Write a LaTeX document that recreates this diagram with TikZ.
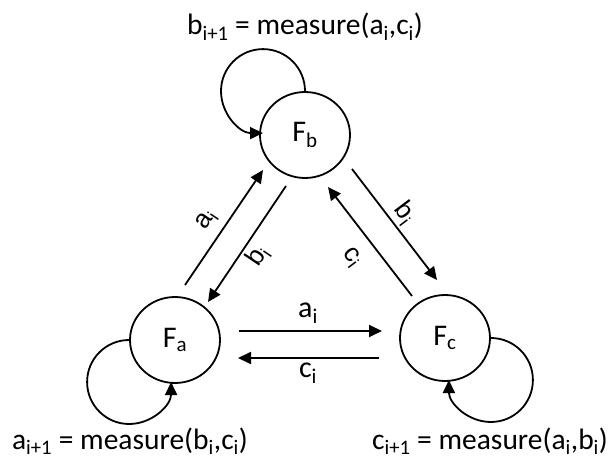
\documentclass[tikz,border=0pt]{standalone}
\usepackage{fontspec}
\setmainfont{Carlito}
\newfontfamily\arialf{Liberation Sans}
\usetikzlibrary{shapes.geometric,arrows.meta,calc}
\begin{document}
\begin{tikzpicture}[x=1pt,y=-1pt,
  state/.style={draw,ellipse,line width=1.8pt,minimum width=90pt,minimum height=86pt,inner sep=0pt,font=\fontsize{30}{32}\selectfont},
  conn/.style={line width=1.8pt,-{Triangle[length=13pt,width=12pt]}},
  eqlabel/.style={anchor=base,inner sep=0pt,font=\fontsize{29.5}{32}\selectfont},
  hlabel/.style={inner sep=0pt,font=\fontsize{30}{32}\selectfont},
  rlabel/.style={inner sep=0pt,font=\arialf\fontsize{26}{28}\selectfont}]
\useasboundingbox (0,0) rectangle (616,460);
\node[state] (Fb) at (305,135) {F\textsubscript{b}};
\node[state] (Fa) at (175,340) {F\textsubscript{a}};
\node[state] (Fc) at (445,338) {F\textsubscript{c}};
% self loops
\draw[conn] (Fb.north) arc[start angle=0,end angle=270,radius=42pt];
\draw[conn] (Fa.west) arc[start angle=90,end angle=360,radius=42pt];
\draw[conn] (Fc.east) arc[start angle=90,end angle=-180,radius=42pt];
% connector end points
\coordinate (ab1) at ($(Fa.center)+(10,-55)$);
\coordinate (ab2) at ($(Fb.center)+(-42,35)$);
\coordinate (ba1) at ($(Fb.center)+(-19,51)$);
\coordinate (ba2) at ($(Fa.center)+(33,-38)$);
\coordinate (bc1) at ($(Fb.center)+(47,34)$);
\coordinate (bc2) at ($(Fc.center)+(-8,-58)$);
\coordinate (cb1) at ($(Fc.center)+(-33,-42)$);
\coordinate (cb2) at ($(Fb.center)+(23,52)$);
\coordinate (ac1) at ($(Fa.center)+(64,-9)$);
\coordinate (ac2) at ($(Fc.center)+(-63,-7)$);
\coordinate (ca1) at ($(Fc.center)+(-66,20)$);
\coordinate (ca2) at ($(Fa.center)+(63,18)$);
\draw[conn] (ab1) -- (ab2);
\draw[conn] (ba1) -- (ba2);
\draw[conn] (bc1) -- (bc2);
\draw[conn] (cb1) -- (cb2);
\draw[conn] (ac1) -- (ac2);
\draw[conn] (ca1) -- (ca2);
% labels
\node[rlabel,rotate=56] (lab1) at (207,220) {a\textsubscript{i}};
\node[rlabel,rotate=56] (lba1) at (258,256) {b\textsubscript{i}};
\node[rlabel,rotate=-53] (lbc1) at (405,213) {b\textsubscript{i}};
\node[rlabel,rotate=-53] (lcb1) at (352,258) {c\textsubscript{i}};
\node[hlabel] (lac) at (308,313) {a\textsubscript{i}};
\node[hlabel] (lca) at (308,373) {c\textsubscript{i}};
\node[eqlabel] (eqb) at (305,35) {b\textsubscript{i+1} = measure(a\textsubscript{i},c\textsubscript{i})};
\node[eqlabel] (eqa) at (130,449) {a\textsubscript{i+1} = measure(b\textsubscript{i},c\textsubscript{i})};
\node[eqlabel] (eqc) at (490,449) {c\textsubscript{i+1} = measure(a\textsubscript{i},b\textsubscript{i})};
\end{tikzpicture}
\end{document}
